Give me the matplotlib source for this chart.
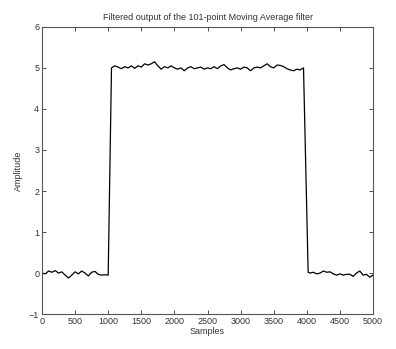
import matplotlib
matplotlib.use("Agg")
import matplotlib.pyplot as plt

plt.rcParams['font.family'] = ['Liberation Sans', 'DejaVu Sans']

# Data (sample index, amplitude)
low1_x = [0, 50, 100, 150, 200, 250, 300, 350, 400, 450, 500, 550, 600, 650, 700, 750, 800, 850, 900, 950, 1000]
low1_y = [0.0, -0.02, 0.05, 0.02, 0.06, 0.0, 0.03, -0.05, -0.12, -0.05, 0.03, -0.02, 0.05, 0.0, -0.07, 0.02, 0.04, -0.03, -0.05, -0.04, -0.05]

high_x = [1050, 1100, 1150, 1200, 1250, 1300, 1350, 1400, 1450, 1500, 1550, 1600, 1650, 1700, 1750, 1800, 1850, 1900, 1950, 2000,
          2050, 2100, 2150, 2200, 2250, 2300, 2350, 2400, 2450, 2500, 2550, 2600, 2650, 2700, 2750, 2800, 2850, 2900, 2950, 3000,
          3050, 3100, 3150, 3200, 3250, 3300, 3350, 3400, 3450, 3500, 3550, 3600, 3650, 3700, 3750, 3800, 3850, 3900, 3950]
high_y = [5.0, 5.05, 5.02, 4.98, 5.03, 5.0, 5.05, 4.99, 5.05, 5.02, 5.1, 5.07, 5.1, 5.15, 5.05, 4.97, 5.03, 5.0, 5.05, 5.0,
          4.97, 5.0, 4.93, 5.0, 5.03, 4.98, 5.0, 5.02, 4.97, 5.0, 4.98, 5.03, 4.98, 5.05, 5.08, 5.0, 4.95, 4.98, 5.0, 4.97,
          5.02, 5.0, 4.93, 5.0, 5.02, 5.0, 5.05, 5.1, 5.03, 5.0, 5.07, 5.06, 5.03, 4.98, 4.95, 4.93, 4.97, 4.95, 5.0]

low2_x = [4020, 4050, 4100, 4150, 4200, 4250, 4300, 4350, 4400, 4450, 4500, 4550, 4600, 4650, 4700, 4750, 4800, 4850, 4900, 4950, 5000]
low2_y = [0.02, 0.0, 0.02, -0.02, 0.0, 0.05, 0.02, 0.03, -0.02, -0.05, -0.02, -0.05, -0.03, -0.03, -0.08, 0.0, 0.05, -0.05, -0.03, -0.1, -0.05]

x = low1_x + high_x + low2_x
y = low1_y + high_y + low2_y

xticks = [0, 500, 1000, 1500, 2000, 2500, 3000, 3500, 4000, 4500, 5000]
yticks = [-1, 0, 1, 2, 3, 4, 5, 6]

fig = plt.figure(figsize=(3.96, 3.49), dpi=100)
ax = fig.add_axes([0.106, 0.100, 0.836, 0.823])
ax.plot(x, y, color="black", linewidth=0.9)
ax.set_xlim(0, 5000)
ax.set_ylim(-1, 6)
ax.set_xticks(xticks)
ax.set_yticks(yticks)
ax.tick_params(direction="in", length=3, width=0.6, labelsize=6.5, colors="#333333",
               top=True, right=True, pad=2)
for s in ax.spines.values():
    s.set_color("#555555")
    s.set_linewidth(0.8)
ax.set_title("Filtered output of the 101-point Moving Average filter", fontsize=6.5, color="#333333", pad=5)
ax.set_xlabel("Samples", fontsize=6.5, color="#333333", labelpad=1)
ax.set_ylabel("Amplitude", fontsize=6.5, color="#333333", labelpad=4)
fig.savefig("out.png", dpi=100)
